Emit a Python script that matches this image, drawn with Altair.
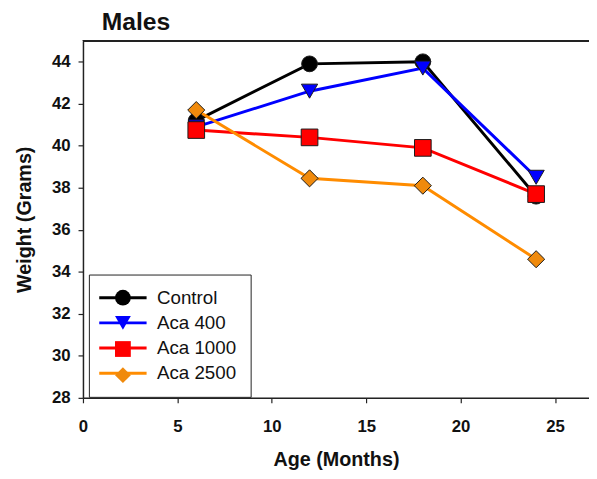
import altair as alt
import pandas as pd

series = ["Control", "Aca 400", "Aca 1000", "Aca 2500"]
ages = [6, 12, 18, 24]
control = [41.2, 43.9, 44.0, 37.6]
aca400 = [40.9, 42.6, 43.7, 38.5]
aca1000 = [40.75, 40.4, 39.9, 37.7]
aca2500 = [41.7, 38.45, 38.1, 34.6]

line_colors = ["#000000", "#0000FF", "#FF0000", "#FF8C00"]
fill_colors = ["#000000", "#0000FF", "#FF0000", "#F08A0C"]
shapes = ["circle", "triangle-down", "square", "diamond"]
line_widths = [3, 3, 2.5, 2.2]
marker_sizes = [256, 300, 225, 400]
x_ticks = [0, 5, 10, 15, 20, 25]
y_ticks = [28, 30, 32, 34, 36, 38, 40, 42, 44]

rows = []
for name, vals in zip(series, [control, aca400, aca1000, aca2500]):
    for a, v in zip(ages, vals):
        rows.append({"series": name, "series_line": name, "age": a, "weight": v})
df = pd.DataFrame(rows)

FONT = "Liberation Sans"

x_enc = alt.X(
    "age:Q",
    scale=alt.Scale(domain=[0, 26.8], nice=False, zero=False),
    axis=alt.Axis(
        values=x_ticks, title="Age (Months)", grid=False, format="d",
        labelFont=FONT, labelFontSize=17, labelFontWeight="bold", labelColor="#111",
        titleFont=FONT, titleFontSize=20, titleFontWeight="bold", titleColor="#111",
        domainColor="#222", domainWidth=1.5, tickColor="#222", tickWidth=1.2,
        tickSize=5, labelPadding=16, titlePadding=16, labelOverlap=False,
        labelFlush=False,
    ),
)
y_enc = alt.Y(
    "weight:Q",
    scale=alt.Scale(domain=[28, 45], nice=False, zero=False),
    axis=alt.Axis(
        values=y_ticks, title="Weight (Grams)", grid=False,
        labelFont=FONT, labelFontSize=17, labelFontWeight="bold", labelColor="#111",
        titleFont=FONT, titleFontSize=20, titleFontWeight="bold", titleColor="#111",
        domainColor="#222", domainWidth=1.5, tickColor="#222", tickWidth=1.2,
        tickSize=5, labelPadding=8, titlePadding=17, labelOverlap=False,
    ),
)

LX, LY = 6, 237
common_leg = dict(
    title=None, orient="none", legendX=LX, legendY=LY,
    symbolSize=256, labelFont=FONT, labelFontSize=19, labelColor="#111",
    padding=14, rowPadding=5.5, symbolOffset=11, labelOffset=25,
)

lines = alt.Chart(df).mark_line().encode(
    x=x_enc,
    y=y_enc,
    stroke=alt.Stroke(
        "series_line:N",
        scale=alt.Scale(domain=series, range=line_colors),
        legend=alt.Legend(
            symbolType="M-3,0H3", symbolStrokeWidth=3,
            strokeColor="#222", fillColor="white", cornerRadius=0,
            **common_leg,
        ),
    ),
    strokeWidth=alt.StrokeWidth(
        "series_line:N", scale=alt.Scale(domain=series, range=line_widths), legend=None
    ),
    detail="series:N",
)

pt_legend = alt.Legend(
    symbolStrokeColor="#1a1a1a", symbolStrokeWidth=1, symbolOpacity=1,
    labelExpr="' '", **common_leg,
)
points = alt.Chart(df).mark_point(filled=True, opacity=1, stroke="#1a1a1a", strokeWidth=1).encode(
    x=x_enc,
    y=y_enc,
    fill=alt.Fill("series:N", scale=alt.Scale(domain=series, range=fill_colors), legend=pt_legend),
    shape=alt.Shape("series:N", scale=alt.Scale(domain=series, range=shapes), legend=pt_legend),
    size=alt.Size("series:N", scale=alt.Scale(domain=series, range=marker_sizes), legend=None),
)

top = alt.Chart(df).mark_rule(color="#222", strokeWidth=1.5).encode(y=alt.datum(45))

chart = alt.layer(top, lines, points).resolve_legend(
    stroke="independent", fill="independent", shape="independent"
).properties(
    width=513,
    height=362,
    padding={"left": 76, "top": 30, "right": 0, "bottom": 75},
    autosize=alt.AutoSizeParams(type="none"),
    title=alt.Title(
        "Males", anchor="start", frame="group", dx=19, offset=5,
        font=FONT, fontSize=25, fontWeight="bold", color="#111",
    ),
).configure_view(stroke=None).configure(background="white")

chart.save("out.html", embed_options={"renderer": "svg", "actions": False})
